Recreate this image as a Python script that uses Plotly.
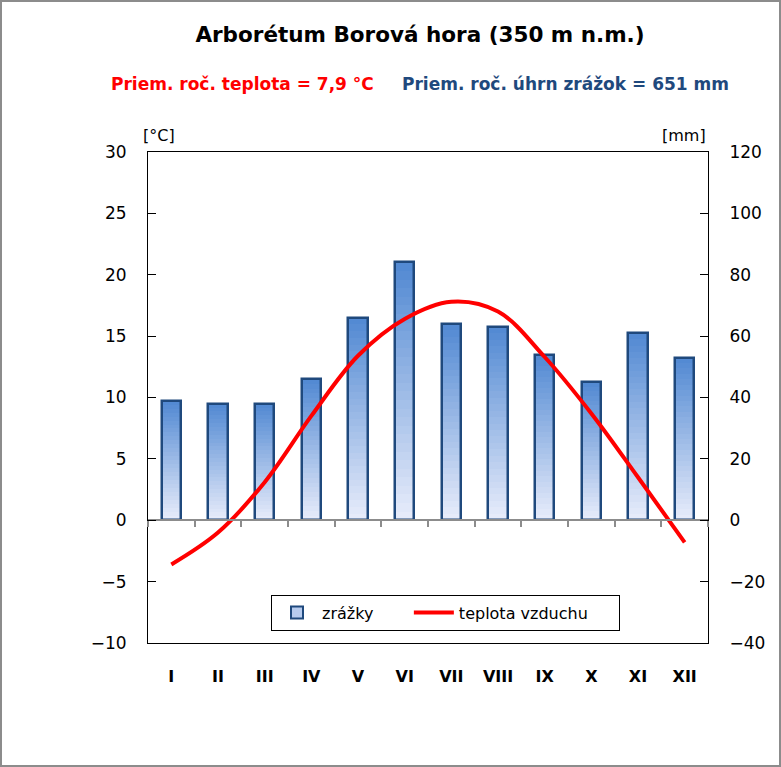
import plotly.graph_objects as go

months = ["I", "II", "III", "IV", "V", "VI", "VII", "VIII", "IX", "X", "XI", "XII"]
precip_mm = [39, 38, 38, 46, 66, 84, 64, 63, 54, 45, 61, 53]
temp_c = [-3.6, -1.0, 3.1, 8.5, 13.4, 16.4, 17.8, 17.0, 13.3, 8.7, 3.5, -1.8]

FONT = "'DejaVu Sans', Verdana, sans-serif"
W, H = 781, 767
ML, MR, MT, MB = 148, 73, 152, 124
NBSP = "\u00a0"

mean_t = sum(temp_c) / len(temp_c)
sum_p = sum(precip_mm)

x = list(range(len(months)))
fig = go.Figure()

# gradient bars built from stacked segments of each data value
N = 30
top = (80, 136, 210)
bot = (233, 237, 251)
for i in range(N):
    t = (i + 0.5) / N  # 0 bottom -> 1 top
    c = tuple(int(round(bot[k] + (top[k] - bot[k]) * t)) for k in range(3))
    fig.add_trace(go.Bar(
        x=x, y=[v / N for v in precip_mm], base=[v * i / N for v in precip_mm],
        width=0.42, marker=dict(color="rgb(%d,%d,%d)" % c, line=dict(width=0)),
        showlegend=False, hoverinfo="skip"))

# outline
fig.add_trace(go.Bar(x=x, y=precip_mm, width=0.42,
                     marker=dict(color="rgba(0,0,0,0)", line=dict(color="#1F497D", width=2.5)),
                     showlegend=False, name="zrážky"))
# legend entry
fig.add_trace(go.Bar(x=x, y=[None] * len(x), name="zrážky" + NBSP * 6,
                     marker=dict(color="#B7CBEE", line=dict(color="#1F497D", width=2))))

fig.add_trace(go.Scatter(x=x, y=temp_c, mode="lines", name="teplota vzduchu" + NBSP * 5, yaxis="y2",
                         line=dict(color="#FF0000", width=4, shape="spline", smoothing=1.0)))

# zero baseline axis with category boundary ticks
fig.add_trace(go.Scatter(x=[x[0]], y=[None], xaxis="x2", showlegend=False, hoverinfo="skip"))

tmin, tmax = -10, 30
pmin, pmax = -40, 120
fig.update_layout(
    width=W, height=H,
    margin=dict(l=ML, r=MR, t=MT, b=MB),
    paper_bgcolor="white", plot_bgcolor="white",
    font=dict(family=FONT, size=17, color="black"),
    barmode="overlay", bargap=0,
    title=dict(text="<b>Arborétum Borová hora (350 m n.m.)</b>",
               x=420 / W, xanchor="center", y=1 - 34 / H, yanchor="middle",
               font=dict(size=21.5, color="black", family=FONT)),
    xaxis=dict(range=[-0.5, len(x) - 0.5], tickvals=x, ticktext=["<b>%s</b>" % m for m in months],
               showline=True, linecolor="black", linewidth=1, mirror=True,
               ticks="", showgrid=False, zeroline=False, ticklabelstandoff=19,
               tickfont=dict(size=16)),
    xaxis2=dict(overlaying="x", anchor="free", position=(0 - pmin) / (pmax - pmin),
                range=[-0.5, len(x) - 0.5], tickvals=[i - 0.5 for i in range(len(x) + 1)],
                showticklabels=False, showline=True, linecolor="#8C8C8C", linewidth=2,
                ticks="outside", ticklen=6, tickcolor="#8C8C8C", tickwidth=1.5,
                showgrid=False, zeroline=False),
    yaxis=dict(range=[pmin, pmax], dtick=20, side="right",
               showline=True, linecolor="black", linewidth=1, mirror=True,
               ticks="inside", ticklen=8, tickcolor="black",
               showgrid=False, zeroline=False, ticklabelstandoff=17),
    yaxis2=dict(range=[tmin, tmax], dtick=5, side="left", overlaying="y", anchor="x",
                showline=True, linecolor="black", linewidth=1,
                ticks="inside", ticklen=8, tickcolor="black",
                showgrid=False, zeroline=False, ticklabelstandoff=17),
    legend=dict(orientation="h", x=(445.5 - ML) / (W - ML - MR), xanchor="center",
                y=(643 - 612.5) / 491, yanchor="middle",
                bgcolor="white", bordercolor="black", borderwidth=1,
                font=dict(size=16), traceorder="normal", itemwidth=40),
    showlegend=True,
)

pw = W - ML - MR
ph = H - MT - MB
fig.add_annotation(text="<b>Priem. roč. teplota = %s °C</b>" % ("%.1f" % mean_t).replace(".", ","),
                   x=(242.5 - ML) / pw, y=(643 - 84) / ph, xref="paper", yref="paper",
                   xanchor="center", yanchor="middle",
                   showarrow=False, font=dict(size=17, color="#FF0000"))
fig.add_annotation(text="<b>Priem. roč. úhrn zrážok = %d mm</b>" % round(sum_p),
                   x=(565 - ML) / pw, y=(643 - 84) / ph, xref="paper", yref="paper",
                   xanchor="center", yanchor="middle",
                   showarrow=False, font=dict(size=17, color="#1F497D"))
fig.add_annotation(text="[°C]", x=(159 - ML) / pw, y=(643 - 135) / ph, xref="paper", yref="paper",
                   xanchor="center", yanchor="middle",
                   showarrow=False, font=dict(size=16))
fig.add_annotation(text="[mm]", x=(684 - ML) / pw, y=(643 - 135) / ph, xref="paper", yref="paper",
                   xanchor="center", yanchor="middle",
                   showarrow=False, font=dict(size=16))

# outer chart border
fig.add_shape(type="rect", xref="paper", yref="paper",
              x0=-(ML - 1) / pw, x1=1 + (MR - 1) / pw, y0=-(MB - 1) / ph, y1=1 + (MT - 1) / ph,
              line=dict(color="#8C8C8C", width=2), layer="below")

fig.write_html("out.html")
